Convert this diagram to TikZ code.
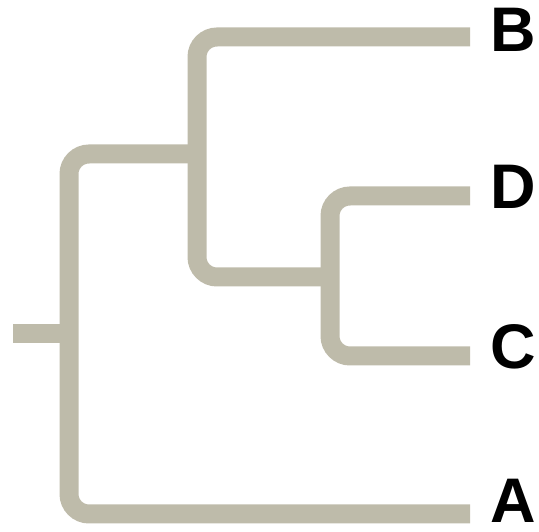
\documentclass[tikz,border=0pt]{standalone}
\usepackage{fontspec}
\setmainfont{Liberation Sans}
\definecolor{branch}{RGB}{190,187,170}
\begin{document}
\begin{tikzpicture}[x=1pt,y=1pt,
  branchline/.style={draw=branch,line width=19pt,rounded corners=20pt},
  leaflabel/.style={font=\fontsize{63}{63}\selectfont\bfseries,anchor=west,inner sep=0pt}]
\useasboundingbox (0,0) rectangle (539,532);
% y measured from bottom: y = 532 - pixel row
\coordinate (root) at (13,198);
\coordinate (r) at (69,198);
\coordinate (n1) at (197,378);
\coordinate (n2) at (330,255);
\coordinate (lB) at (470,495);
\coordinate (lD) at (470,336);
\coordinate (lC) at (470,176);
\coordinate (lA) at (470,18);
\node[leaflabel] (B) at (490,502) {B};
\node[leaflabel] (D) at (490,345) {D};
\node[leaflabel] (C) at (490,185) {C};
\node[leaflabel] (A) at (490,31) {A};
\path[branchline] (root) -- (r);
\path[branchline] (lA) -- (r |- lA) -- (r |- n1) -- (n1);
\path[branchline] (lB) -- (n1 |- lB) -- (n1 |- n2) -- (n2);
\path[branchline] (lD) -- (n2 |- lD) -- (n2 |- lC) -- (lC);
\end{tikzpicture}
\end{document}
